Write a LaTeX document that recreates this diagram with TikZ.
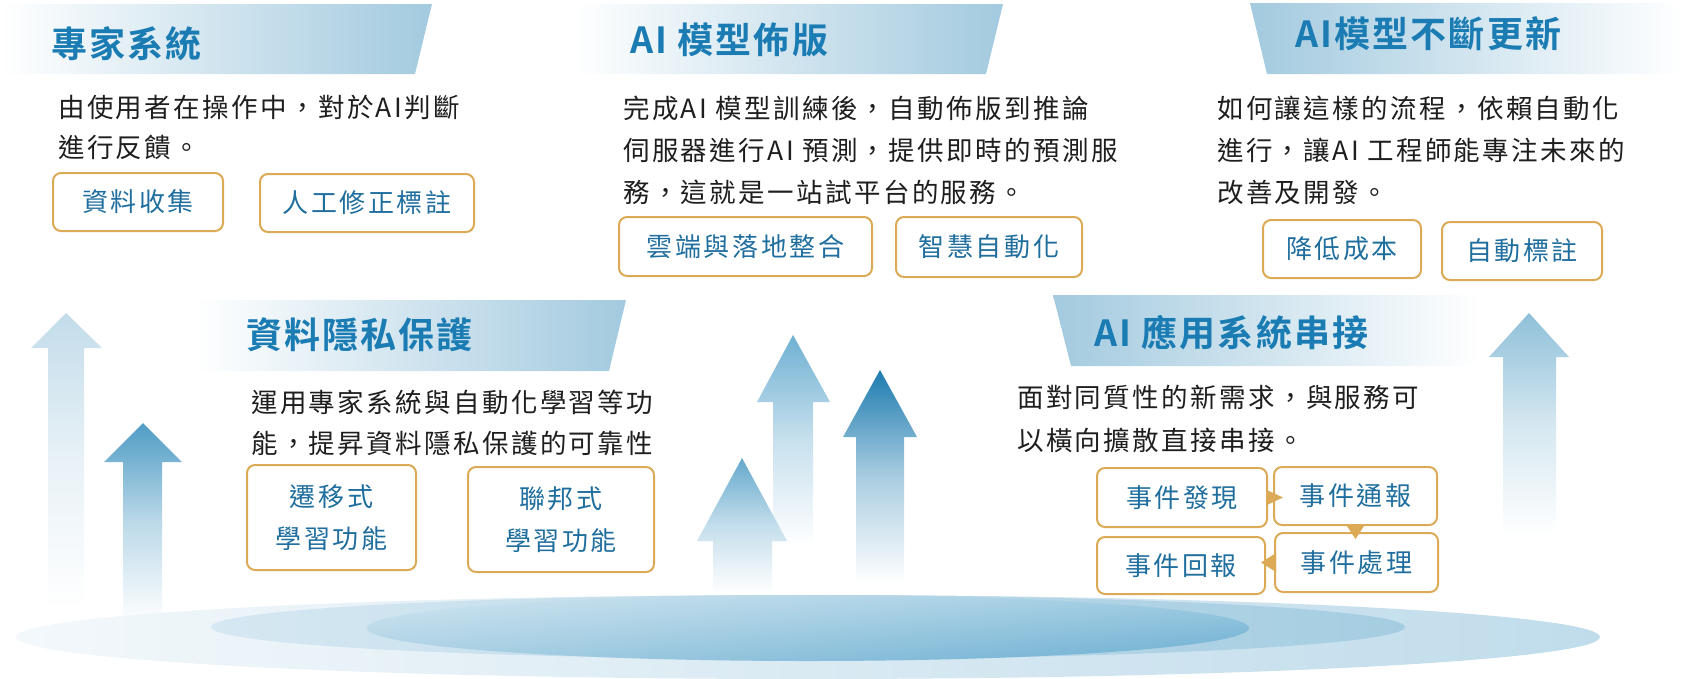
\documentclass[tikz,border=0pt]{standalone}
\usepackage{fontspec}
\newfontfamily\bodyf[LetterSpace=9]{Noto Sans CJK TC}
\newfontfamily\boxf[LetterSpace=10]{Noto Sans CJK TC}
\newfontfamily\titlef[LetterSpace=6]{Noto Sans CJK TC Bold}
\usetikzlibrary{calc,shadings}
\definecolor{titleblue}{HTML}{1A7CB3}
\definecolor{boxtext}{HTML}{1F6E9E}
\definecolor{gold}{HTML}{DCAA57}
\definecolor{bannerblue}{HTML}{A3CADF}
\definecolor{bodytext}{HTML}{1E1E1E}
\definecolor{arA}{HTML}{C3DCEA}
\definecolor{arB}{HTML}{4F9CC5}
\definecolor{arC}{HTML}{64A8CC}
\definecolor{arD}{HTML}{6FB0D2}
\definecolor{arE}{HTML}{1D7BB0}
\definecolor{arF}{HTML}{8FC0D9}
\definecolor{elOL}{HTML}{F3F8FB}
\definecolor{elOR}{HTML}{C0DCEB}
\definecolor{elML}{HTML}{D6E8F2}
\definecolor{elMR}{HTML}{A5CDE1}
\definecolor{elUL}{HTML}{D0E5F0}
\definecolor{elUR}{HTML}{A0CCE2}
\definecolor{elLL}{HTML}{AAD0E4}
\definecolor{elLR}{HTML}{6AAED1}
\tikzset{
  titletxt/.style={font=\titlef\fontsize{36}{40}\selectfont, text=titleblue, anchor=west, inner sep=0pt},
  bodytxt/.style={font=\bodyf\fontsize{26.5}{42}\selectfont, text=bodytext, align=left, anchor=north west, inner sep=0pt},
  tagbox/.style={draw=gold, line width=2pt, rounded corners=8pt, fill=white, font=\boxf\fontsize{26}{42}\selectfont, text=boxtext, align=center, inner sep=0pt},
  tri/.style={fill=gold},
  uparrow/.style={top color=#1, bottom color=white, middle color=#1!38!white},
}
\begin{document}
\begin{tikzpicture}[x=1pt,y=-1pt]
\useasboundingbox (0,0) rectangle (1682,678);
% upward arrows
\shade[uparrow=arA] (48,610) -- (48,348) -- (31,348) -- (66,313) -- (102,348) -- (84,348) -- (84,610) -- cycle;
\shade[uparrow=arB] (123,623) -- (123,462) -- (104,462) -- (143,423) -- (182,462) -- (162,462) -- (162,623) -- cycle;
\shade[uparrow=arD] (773,547) -- (773,402) -- (757,402) -- (793,335) -- (830,402) -- (813,402) -- (813,547) -- cycle;
\shade[uparrow=arC] (713,593) -- (713,541) -- (697,541) -- (742,458) -- (787,541) -- (772,541) -- (772,593) -- cycle;
\shade[uparrow=arE] (856,583) -- (856,437) -- (843,437) -- (880,370) -- (917,437) -- (904,437) -- (904,583) -- cycle;
\shade[uparrow=arF] (1503,535) -- (1503,357) -- (1489,357) -- (1529,313) -- (1569,357) -- (1556,357) -- (1556,535) -- cycle;
% base ellipses
\shade[left color=elOL, right color=elOR] (808,637) ellipse [x radius=792, y radius=42];
\shade[left color=elML, right color=elMR] (808,627) ellipse [x radius=597, y radius=32];
\shade[upper left=elUL, upper right=elUR, lower left=elLL, lower right=elLR] (808,628) ellipse [x radius=441, y radius=33];
% banners
\shade[left color=white, right color=bannerblue] (0,4) -- (432,4) -- (415,74) -- (0,74) -- cycle;
\shade[left color=white, right color=bannerblue] (574,4) -- (1003,4) -- (986,74) -- (574,74) -- cycle;
\shade[left color=bannerblue, right color=white] (1250,3) -- (1682,3) -- (1682,74) -- (1267,74) -- cycle;
\shade[left color=white, right color=bannerblue] (195,300) -- (626,300) -- (609,371) -- (195,371) -- cycle;
\shade[left color=bannerblue, right color=white] (1053,295) -- (1480,295) -- (1480,366) -- (1071,366) -- cycle;
% titles
\node[titletxt] (T1) at (51,44) {專家系統};
\node[titletxt] (T2) at (630,40) {AI 模型佈版};
\node[titletxt] (T3) at (1295,34) {AI模型不斷更新};
\node[titletxt] (T4) at (246,335) {資料隱私保護};
\node[titletxt] (T5) at (1094,333) {AI 應用系統串接};
% body texts
\node[bodytxt, font=\bodyf\fontsize{26.5}{40}\selectfont] (P1) at (58,95) {由使用者在操作中，對於AI判斷\\進行反饋。};
\node[bodytxt] (P2) at (623,96) {完成AI 模型訓練後，自動佈版到推論\\伺服器進行AI 預測，提供即時的預測服\\務，這就是一站試平台的服務。};
\node[bodytxt] (P3) at (1217,96) {如何讓這樣的流程，依賴自動化\\進行，讓AI 工程師能專注未來的\\改善及開發。};
\node[bodytxt, font=\bodyf\fontsize{26.5}{41}\selectfont] (P4) at (251,390) {運用專家系統與自動化學習等功\\能，提昇資料隱私保護的可靠性};
\node[bodytxt, font=\bodyf\fontsize{26.5}{43}\selectfont] (P5) at (1017,385) {面對同質性的新需求，與服務可\\以橫向擴散直接串接。};
% tag boxes
\node[tagbox, minimum width=170pt, minimum height=58pt] (t1a) at (138,202) {資料收集};
\node[tagbox, minimum width=214pt, minimum height=58pt] (t1b) at (367,203) {人工修正標註};
\node[tagbox, minimum width=253pt, minimum height=59pt] (t2a) at (745.5,246.5) {雲端與落地整合};
\node[tagbox, minimum width=186pt, minimum height=60pt] (t2b) at (989,247) {智慧自動化};
\node[tagbox, minimum width=158pt, minimum height=58pt] (t3a) at (1342,249) {降低成本};
\node[tagbox, minimum width=160pt, minimum height=58pt] (t3b) at (1522,251) {自動標註};
\node[tagbox, minimum width=169pt, minimum height=105pt] (t4a) at (331.5,517.5) {遷移式\\學習功能};
\node[tagbox, minimum width=186pt, minimum height=105pt] (t4b) at (561,519.5) {聯邦式\\學習功能};
% event cycle
\node[tagbox, minimum width=170pt, minimum height=59pt] (e1) at (1182,497.5) {事件發現};
\node[tagbox, minimum width=163pt, minimum height=58pt] (e2) at (1355.5,496) {事件通報};
\node[tagbox, minimum width=168pt, minimum height=57pt] (e3) at (1181,565.5) {事件回報};
\node[tagbox, minimum width=163pt, minimum height=59pt] (e4) at (1356.5,562.5) {事件處理};
\fill[tri] ($(e1.east)+(0,-7)$) -- ($(e1.east)+(15,0)$) -- ($(e1.east)+(0,7)$) -- cycle;
\fill[tri] ($(e2.south)+(-8.5,0)$) -- ($(e2.south)+(0,13)$) -- ($(e2.south)+(8.5,0)$) -- cycle;
\fill[tri] ($(e4.west)+(2,-9.5)$) -- ($(e4.west)+(-13,0)$) -- ($(e4.west)+(2,9.5)$) -- cycle;
\end{tikzpicture}
\end{document}
